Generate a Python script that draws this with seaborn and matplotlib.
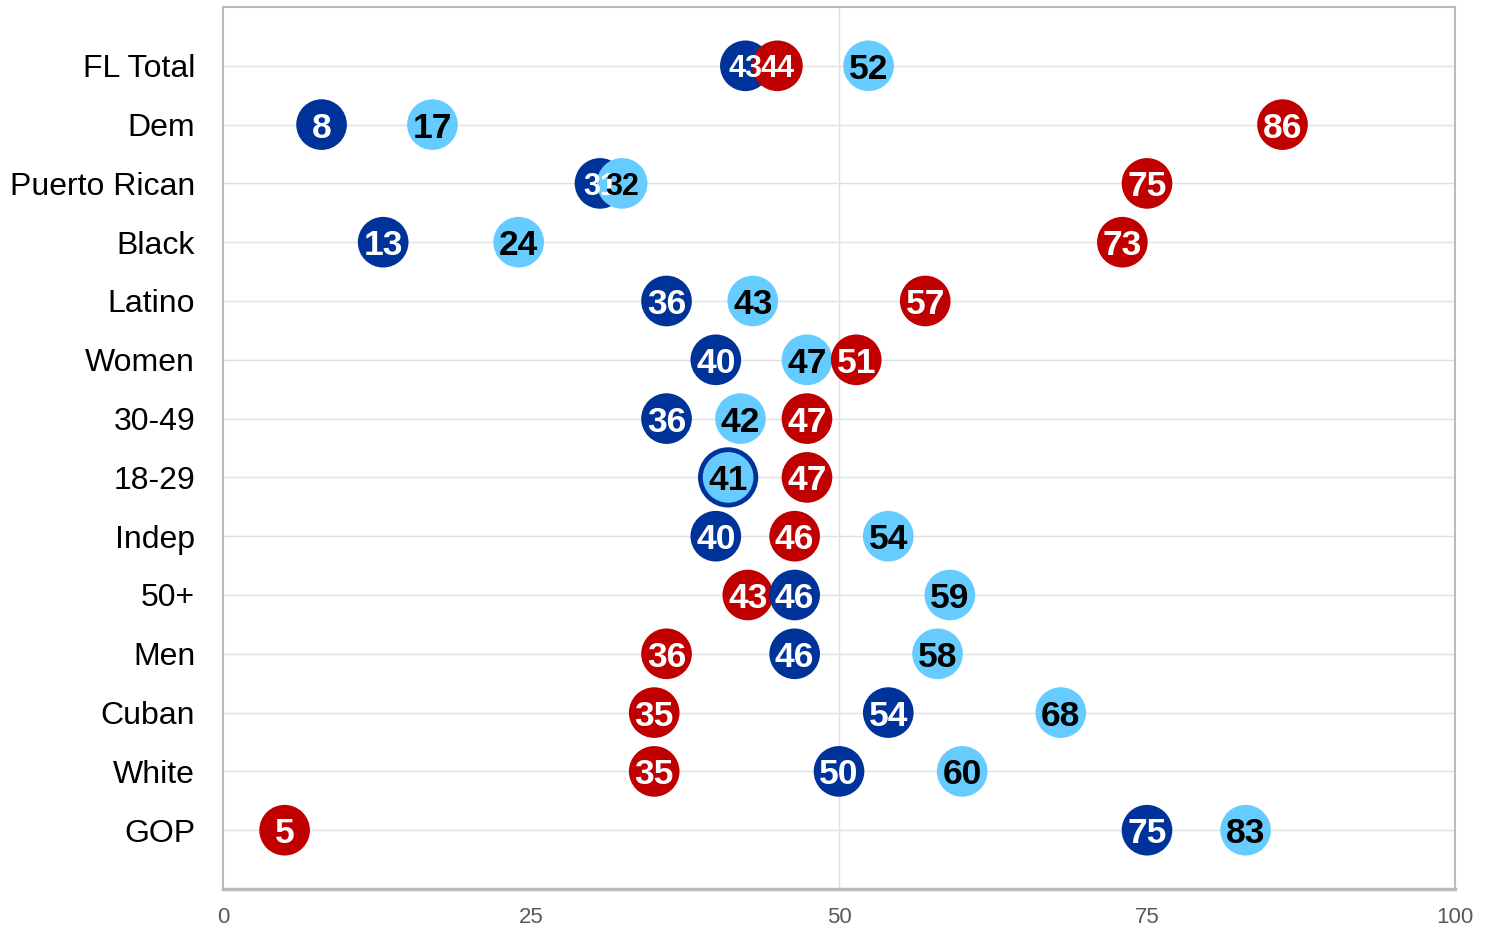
import pandas as pd
import seaborn as sns
import matplotlib.pyplot as plt

# groups, top to bottom
groups = ['FL Total', 'Dem', 'Puerto Rican', 'Black', 'Latino', 'Women', '30-49',
          '18-29', 'Indep', '50+', 'Men', 'Cuban', 'White', 'GOP']

dark_vals = [42.4, 8, 30.6, 13, 36, 40, 36, 41, 40, 46.4, 46.4, 54, 50, 75]
red_vals = [45.0, 86, 75, 73, 57, 51.4, 47.4, 47.4, 46.4, 42.6, 36, 35, 35, 5]
light_vals = [52.4, 17, 32.4, 24, 43, 47.4, 42, 41, 54, 59, 58, 68, 60, 83]

dark_labels = [43, 8, 31, 13, 36, 40, 36, 41, 40, 46, 46, 54, 50, 75]
red_labels = [44, 86, 75, 73, 57, 51, 47, 47, 46, 43, 36, 35, 35, 5]
light_labels = [52, 17, 32, 24, 43, 47, 42, 41, 54, 59, 58, 68, 60, 83]

series = ['dark', 'red', 'light']
colors = {'dark': '#003399', 'red': '#c00000', 'light': '#66ccff'}
text_colors = {'dark': 'white', 'red': 'white', 'light': 'black'}

rows = []
for name, vals, labs in [('dark', dark_vals, dark_labels),
                         ('red', red_vals, red_labels),
                         ('light', light_vals, light_labels)]:
    for g, v, l in zip(groups, vals, labs):
        rows.append({'group': g, 'value': v, 'label': l, 'series': name})
df = pd.DataFrame(rows)
df['row'] = df['group'].map({g: i for i, g in enumerate(groups)})
df['order'] = df['series'].map({s: i for i, s in enumerate(series)})
# right-hand circles sit on top of left-hand ones
df = df.sort_values(['value', 'order']).reset_index(drop=True)
# a circle hidden exactly under another one is drawn larger so a ring shows
df['tie'] = df.duplicated(['row', 'value'], keep='last')
df['sz'] = df['tie'].map({False: 'big', True: 'ring'})

# a bit smaller labels where circles crowd each other
def gap(r):
    others = df[(df['row'] == r['row']) & (df.index != r.name)]['value']
    return (others - r['value']).abs().min()
df['fs'] = [22 if 0 < gap(r) < 2.7 else 25.5 for _, r in df.iterrows()]

sns.set_style('white')
plt.rcParams['font.family'] = ['Liberation Sans', 'DejaVu Sans']

fig = plt.figure(figsize=(14.91, 9.32), dpi=100)
ax = fig.add_axes([223 / 1491, 1 - 889 / 932, (1455 - 223) / 1491, (889 - 7) / 932])

for i in range(len(groups)):
    ax.axhline(i, color='#e0e0e0', lw=1, zorder=0)
ax.axvline(50, color='#e0e0e0', lw=1, zorder=0)

sns.scatterplot(data=df, x='value', y='row', hue='series', palette=colors,
                size='sz', sizes={'big': 1330, 'ring': 1880}, linewidth=0,
                legend=False, ax=ax, zorder=2)

for _, r in df.iterrows():
    ax.text(r['value'], r['row'], str(r['label']), ha='center', va='center_baseline',
            color=text_colors[r['series']], fontsize=r['fs'], fontweight='bold', zorder=3)

ax.set_xlim(0, 100)
ax.set_ylim(len(groups), -1)
ax.set_xticks([0, 25, 50, 75, 100])
ax.set_yticks(range(len(groups)))
ax.set_yticklabels(groups, fontsize=23, color='black')
ax.tick_params(axis='y', length=0, pad=20)
ax.tick_params(axis='x', length=7, width=1.2, color='#bbbbbb', labelsize=16,
               labelcolor='#595959', pad=6)
ax.set_xlabel('')
ax.set_ylabel('')
for s in ax.spines.values():
    s.set_color('#bbbbbb')
    s.set_linewidth(1.5)
ax.spines['bottom'].set_linewidth(2.5)

fig.savefig('out.png', dpi=100)
